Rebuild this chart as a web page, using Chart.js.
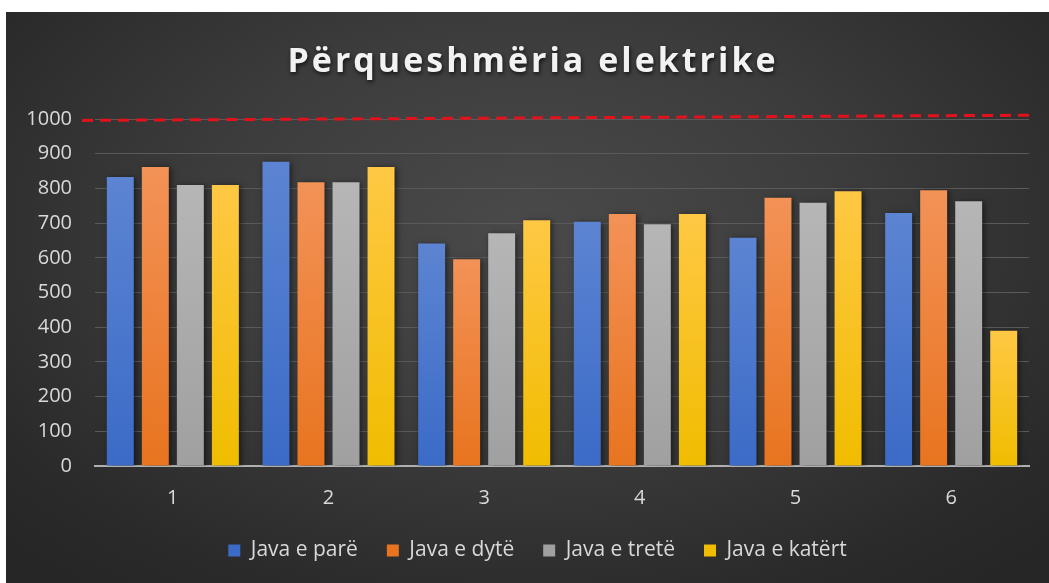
<!DOCTYPE html>
<html>
<head>
<meta charset="utf-8">
<title>Përqueshmëria elektrike</title>
<script src="https://cdn.jsdelivr.net/npm/chart.js@4.4.1/dist/chart.umd.min.js"></script>
<style>
  html, body { margin: 0; padding: 0; background: #ffffff; }
  #panel {
    position: absolute; left: 6px; top: 12px; width: 1043px; height: 571px;
    background: radial-gradient(ellipse 70% 80% at 50% 38%, #4a4a4a 0%, #3c3c3c 45%, #2a2a2a 85%, #262626 100%);
  }
</style>
</head>
<body>
<div id="panel"><canvas id="chart"></canvas></div>
<script>
const titleText = "Përqueshmëria elektrike";
const categories = ["1", "2", "3", "4", "5", "6"];
const seriesNames = ["Java e parë", "Java e dytë", "Java e tretë", "Java e katërt"];
const week1 = [833, 877, 641, 704, 658, 729];
const week2 = [862, 818, 596, 726, 773, 795];
const week3 = [810, 818, 671, 697, 759, 763];
const week4 = [810, 862, 708, 726, 792, 390];
const yTicks = [0, 100, 200, 300, 400, 500, 600, 700, 800, 900, 1000];
// dashed limit line, value at left end and right end
const limitLine = [996, 1011];

// top / bottom colours of each series
const colours = [
  ["#5c84d2", "#3b6bc7"],
  ["#f39257", "#e8741f"],
  ["#b6b6b6", "#a0a0a0"],
  ["#ffc844", "#f0bd00"]
];

function barFill(i) {
  return (ctx) => {
    const chart = ctx.chart;
    const y = chart.scales && chart.scales.y;
    if (!chart.chartArea || !y || ctx.raw == null) return colours[i][1];
    const top = y.getPixelForValue(ctx.raw);
    const bottom = y.getPixelForValue(0);
    const g = chart.ctx.createLinearGradient(0, top, 0, bottom);
    g.addColorStop(0, colours[i][0]);
    g.addColorStop(1, colours[i][1]);
    return g;
  };
}

const values = [week1, week2, week3, week4];
const datasets = seriesNames.map((name, i) => ({
  label: name,
  data: values[i],
  backgroundColor: barFill(i),
  borderWidth: 0,
  categoryPercentage: 0.9,
  barPercentage: 0.77
}));

// soft shadow under the bars
const barShadow = {
  id: "barShadow",
  beforeDatasetsDraw(chart) {
    const c = chart.ctx;
    c.save();
    c.shadowColor = "rgba(0,0,0,0.55)";
    c.shadowBlur = 6;
    c.shadowOffsetX = 2;
    c.shadowOffsetY = 1;
  },
  afterDatasetsDraw(chart) {
    chart.ctx.restore();
  }
};

// nudge the legend so it sits centred under the plot
const legendShift = {
  id: "legendShift",
  afterLayout(chart) {
    const l = chart.legend;
    if (!l) return;
    l.left += 20; l.right += 20;
    l.top += 2; l.bottom += 2;
  }
};

// title with drop shadow and the red dashed limit line
const decorations = {
  id: "decorations",
  afterDraw(chart) {
    const c = chart.ctx;
    const area = chart.chartArea;
    const y = chart.scales.y;

    c.save();
    c.strokeStyle = "#e3111b";
    c.lineWidth = 3;
    c.setLineDash([11, 7]);
    c.beginPath();
    c.moveTo(area.left - 13, y.getPixelForValue(limitLine[0]));
    c.lineTo(area.right + 7, y.getPixelForValue(limitLine[1]));
    c.stroke();
    c.restore();

    c.save();
    c.font = "bold 34px 'Open Sans'";
    c.letterSpacing = "3px";
    c.textAlign = "center";
    c.textBaseline = "middle";
    c.shadowColor = "rgba(0,0,0,0.7)";
    c.shadowBlur = 4;
    c.shadowOffsetX = 1;
    c.shadowOffsetY = 2;
    c.fillStyle = "#f2f2f2";
    c.fillText(titleText, 527, 50);
    c.restore();
  }
};

new Chart(document.getElementById("chart"), {
  type: "bar",
  data: { labels: categories, datasets: datasets },
  plugins: [barShadow, legendShift, decorations],
  options: {
    responsive: true,
    maintainAspectRatio: false,
    animation: false,
    layout: { padding: { left: 0, right: 20, top: 107, bottom: 14 } },
    plugins: {
      title: { display: false },
      tooltip: { enabled: false },
      legend: {
        position: "bottom",
        labels: {
          color: "#d9d9d9",
          font: { family: "'Open Sans'", size: 21 },
          boxWidth: 12,
          boxHeight: 12,
          padding: 29
        }
      }
    },
    scales: {
      x: {
        grid: { display: false, drawTicks: false },
        border: { display: true, color: "#b0b0b0", width: 2 },
        afterFit(scale) { scale.height = 43; },
        ticks: {
          color: "#d9d9d9",
          font: { family: "'Open Sans'", size: 20 },
          padding: 20
        }
      },
      y: {
        min: 0,
        max: 1000,
        afterBuildTicks(scale) {
          scale.ticks = yTicks.map(v => ({ value: v }));
        },
        afterFit(scale) { scale.width = 89; },
        grid: { color: "#5a5a5a", lineWidth: 1, drawTicks: false },
        border: { display: false },
        ticks: {
          color: "#d9d9d9",
          font: { family: "'Open Sans'", size: 20 },
          padding: 23,
          callback: (v) => String(v)
        }
      }
    }
  }
});
</script>
</body>
</html>
